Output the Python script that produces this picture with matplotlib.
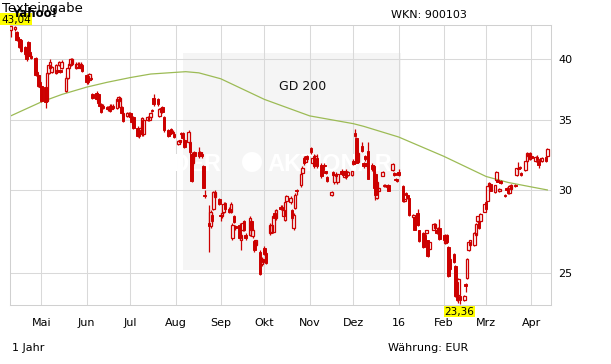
import matplotlib
matplotlib.use("Agg")
import matplotlib.pyplot as plt
import matplotlib.dates as mdates
import matplotlib.transforms as mtransforms
from matplotlib.patches import Rectangle, Circle
from matplotlib.ticker import NullLocator, FixedLocator, FixedFormatter
import numpy as np
import pandas as pd

# ---------------- data ----------------
start_date = "2015-04-10"

opens = [
    42.6, 42.7, 42.4, 42.0, 41.8, 41.7, 41.1, 40.9, 41.5, 40.6,
    40.3, 40.1, 38.9, 38.6, 38.0, 37.7, 37.6, 36.5, 38.8, 39.2,
    38.9, 38.8, 39.05, 39.5, 39.05, 39.2, 37.3, 38.4, 39.2, 39.5,
    39.6, 39.2, 39.3, 39.6, 39.2, 39.5, 38.6, 38.5, 38.2, 38.4,
    37.0, 37.1, 37.0, 36.2, 36.2, 36.1, 36.0, 35.8, 36.1, 35.85,
    36.1, 35.9, 36.5, 36.0, 36.0, 35.5, 35.3, 35.3, 35.5, 35.2,
    35.2, 34.4, 34.2, 34.0, 33.9, 33.9, 35.0, 35.0, 35.2, 35.75,
    36.7, 36.6, 35.3, 35.6, 36.0, 35.2, 34.2, 33.95, 34.3, 34.0,
    33.9, 33.2, 33.3, 34.0, 34.0, 33.5,
    33.3, 33.3, 32.5, 31.8, 32.6, 32.3, 32.6, 32.5, 31.6, 29.65,
    27.9, 27.7, 28.4, 28.8, 29.55, 29.4, 28.4, 28.3, 28.6, 29.15,
    28.8, 28.6, 27.0, 28.3, 27.7, 27.8, 26.9, 27.5, 28.0, 27.2,
    27.2, 28.05, 27.1, 26.8, 26.6, 26.2, 25.5, 25.6, 26.4, 26.1,
    27.3, 27.35, 27.35, 28.5, 28.2, 28.9, 28.9, 28.35, 28.1, 29.25,
    29.2, 28.7, 27.6, 28.85, 30.0, 30.3, 31.15, 32.15, 31.9, 32.35,
    32.9, 31.8, 32.3, 31.7, 32.15, 31.7, 31.5, 31.7, 31.25, 30.85,
    29.65, 31.2, 30.5, 31.1, 30.5, 31.3, 31.25, 30.85, 31.3, 31.0,
    31.0, 32.0, 34.0, 33.6, 31.9, 33.05, 31.8,
    32.35, 31.8, 32.7, 31.7, 31.6, 31.1, 29.5, 29.95, 30.95, 30.35,
    30.35, 30.3, 30.35, 31.35, 31.15, 30.75, 30.7, 31.2, 30.25, 29.25,
    29.8, 29.7, 29.45, 28.25, 28.25, 28.3, 28.5, 27.45, 27.3, 27.15,
    27.3, 26.85, 26.35, 27.5, 27.6, 27.45, 27.45, 27.6, 27.15, 26.7,
    27.2, 26.45, 25.8, 26.05, 25.4, 24.5, 23.8, 23.75, 23.55, 24.4,
    24.7, 26.3, 26.6, 26.6, 27.15, 28.0, 28.0, 28.0, 28.6, 29.2,
    29.3, 30.25, 30.4, 29.85, 30.65, 30.65, 29.9, 30.6, 29.7, 30.15,
    30.15, 29.8, 30.05, 30.35, 31.0, 31.45, 31.55, 31.15, 31.35, 31.95,
    32.3, 32.1, 32.35, 31.95, 32.25, 31.95, 32.1, 31.95, 32.25, 32.3,
]

highs = [
    43.04, 43.0, 42.5, 42.1, 41.9, 41.8, 41.2, 41.0, 41.6, 40.7,
    40.4, 40.2, 39.0, 38.7, 38.1, 37.8, 37.7, 38.9, 39.6, 40.0,
    39.4, 39.6, 39.1, 39.8, 39.1, 39.9, 38.5, 39.3, 39.7, 40.1,
    40.1, 39.7, 39.7, 39.7, 39.7, 39.6, 38.7, 38.6, 38.8, 38.5,
    37.1, 37.3, 37.1, 36.3, 36.3, 36.2, 36.1, 36.1, 36.2, 36.2,
    36.2, 36.7, 36.9, 36.8, 36.1, 35.6, 35.6, 35.6, 35.6, 35.3,
    35.3, 34.5, 34.3, 34.5, 35.2, 35.1, 35.3, 35.3, 35.6, 35.8,
    37.0, 36.7, 35.9, 36.0, 36.1, 35.3, 34.3, 34.1, 34.4, 34.2,
    34.0, 33.45, 33.5, 34.1, 34.1, 33.6,
    34.2, 33.4, 32.6, 32.6, 32.7, 33.0, 32.7, 32.6, 31.7, 30.0,
    29.0, 28.7, 28.5, 29.9, 30.0, 29.5, 28.5, 28.6, 29.2, 29.2,
    28.9, 29.2, 27.9, 28.4, 27.8, 27.9, 27.3, 28.0, 28.1, 27.3,
    28.3, 28.1, 27.6, 26.9, 26.9, 26.3, 25.9, 25.8, 26.5, 26.2,
    27.9, 27.8, 28.4, 28.7, 28.8, 29.0, 29.0, 28.8, 29.3, 29.7,
    29.6, 28.8, 28.5, 29.8, 30.05, 31.2, 31.6, 32.3, 32.3, 32.4,
    33.0, 32.2, 32.5, 32.4, 32.5, 31.8, 31.6, 31.8, 31.3, 30.9,
    29.9, 31.3, 31.1, 31.2, 31.1, 31.4, 31.3, 31.3, 31.4, 31.3,
    31.3, 32.1, 34.3, 33.7, 32.6, 33.3, 31.9,
    32.4, 31.9, 33.3, 31.8, 31.7, 31.2, 30.6, 30.2, 31.3, 30.4,
    30.4, 30.35, 30.4, 31.8, 31.2, 30.8, 30.75, 31.4, 30.3, 29.45,
    29.85, 29.75, 29.5, 28.45, 28.3, 28.35, 28.75, 27.5, 27.35, 27.2,
    27.5, 26.9, 26.8, 27.9, 27.9, 27.5, 27.65, 28.15, 27.2, 27.25,
    27.25, 26.5, 25.85, 26.1, 25.45, 24.55, 24.7, 23.8, 23.8, 24.45,
    25.85, 26.8, 26.9, 27.35, 27.9, 28.35, 28.05, 28.5, 29.15, 29.25,
    30.3, 30.5, 30.45, 30.35, 31.25, 30.7, 30.1, 30.65, 29.75, 30.2,
    30.2, 30.3, 30.4, 30.4, 31.5, 31.9, 31.6, 31.2, 32.0, 32.6,
    32.55, 32.6, 32.4, 32.3, 32.4, 32.0, 32.15, 32.25, 32.3, 32.9,
]

lows = [
    42.0, 42.5, 41.6, 41.6, 41.0, 40.6, 40.3, 39.8, 40.6, 40.2,
    40.0, 38.5, 38.5, 37.6, 37.5, 36.4, 35.9, 36.4, 38.7, 39.1,
    38.8, 38.7, 38.8, 39.4, 38.8, 39.1, 37.2, 38.3, 39.1, 39.4,
    39.5, 39.1, 39.2, 39.2, 39.1, 38.9, 37.9, 37.9, 38.1, 38.2,
    36.6, 36.5, 36.2, 36.0, 35.5, 35.8, 35.8, 35.7, 35.6, 35.8,
    35.8, 35.8, 36.4, 35.9, 35.4, 34.8, 35.2, 35.2, 35.1, 34.7,
    34.3, 33.7, 33.6, 33.9, 33.8, 33.8, 34.9, 34.9, 35.1, 35.6,
    36.1, 36.1, 35.2, 35.5, 35.5, 34.1, 33.7, 33.9, 33.9, 33.9,
    33.6, 33.1, 33.2, 33.8, 33.5, 32.9,
    33.2, 32.5, 30.5, 31.7, 32.2, 32.2, 32.3, 32.2, 30.1, 29.5,
    26.15, 27.6, 27.9, 28.7, 29.5, 29.0, 28.0, 28.2, 28.5, 28.7,
    28.5, 28.5, 26.9, 27.9, 27.5, 26.9, 26.3, 27.4, 27.4, 26.9,
    27.1, 27.4, 27.0, 26.2, 26.5, 24.9, 25.4, 25.5, 26.0, 25.5,
    27.2, 27.3, 27.3, 28.1, 28.1, 28.7, 28.7, 28.3, 28.0, 29.2,
    29.1, 28.1, 27.5, 28.8, 29.7, 30.2, 31.1, 31.7, 31.8, 32.0,
    32.5, 31.7, 31.5, 31.6, 31.5, 30.8, 31.3, 31.5, 31.1, 30.5,
    29.6, 30.9, 30.4, 30.8, 30.4, 31.0, 30.9, 30.8, 30.7, 30.9,
    30.9, 31.7, 33.7, 31.8, 31.8, 32.6, 31.5,
    32.0, 31.5, 30.7, 31.3, 30.1, 29.35, 29.4, 29.9, 30.9, 30.2,
    30.2, 30.1, 29.9, 31.3, 30.95, 30.6, 30.5, 30.95, 29.2, 29.2,
    29.65, 29.4, 28.35, 28.2, 27.45, 28.05, 27.7, 26.75, 26.4, 26.75,
    27.25, 25.9, 26.3, 27.45, 27.55, 27.25, 27.4, 26.85, 26.85, 26.65,
    26.7, 24.8, 25.15, 25.55, 23.7, 23.5, 23.4, 23.36, 23.5, 24.0,
    24.65, 26.25, 26.55, 26.55, 27.1, 27.95, 27.55, 27.95, 28.55, 28.7,
    29.25, 30.2, 29.9, 29.8, 30.6, 30.5, 29.85, 30.4, 29.55, 29.95,
    29.75, 29.75, 30.0, 30.2, 30.95, 31.1, 31.4, 30.95, 31.3, 31.9,
    32.25, 32.05, 32.1, 31.9, 32.0, 31.45, 31.9, 31.9, 31.9, 32.25,
]

closes = [
    43.0, 42.95, 41.7, 41.7, 41.1, 40.7, 40.4, 40.0, 40.7, 40.3,
    40.1, 38.6, 38.6, 37.7, 37.6, 36.5, 36.4, 38.8, 39.5, 39.7,
    39.3, 39.5, 38.9, 39.7, 38.9, 39.7, 38.4, 39.2, 39.6, 40.0,
    40.0, 39.6, 39.6, 39.3, 39.6, 39.0, 38.0, 38.0, 38.7, 38.3,
    36.7, 36.6, 36.3, 36.1, 35.6, 35.9, 35.85, 36.0, 35.7, 36.1,
    35.9, 36.6, 36.8, 36.7, 35.5, 34.9, 35.5, 35.5, 35.2, 34.8,
    34.4, 33.8, 33.8, 34.4, 35.1, 35.0, 35.2, 35.2, 35.5, 35.65,
    36.2, 36.2, 35.8, 35.9, 35.6, 34.2, 33.8, 34.05, 34.0, 34.1,
    33.7, 33.4, 33.45, 33.9, 33.6, 32.95,
    34.1, 32.6, 30.6, 32.5, 32.3, 32.6, 32.4, 32.3, 30.15, 29.6,
    27.7, 28.6, 28.0, 29.85, 29.85, 29.1, 28.3, 28.5, 29.1, 28.8,
    28.6, 29.1, 27.8, 27.95, 27.6, 27.0, 27.2, 27.9, 27.5, 27.0,
    28.2, 27.5, 27.5, 26.3, 26.85, 24.95, 25.8, 25.75, 26.05, 25.55,
    27.8, 27.75, 28.3, 28.2, 28.7, 28.75, 28.8, 28.7, 29.2, 29.6,
    29.5, 28.2, 28.4, 29.7, 29.9, 31.1, 31.5, 31.8, 32.25, 32.1,
    32.6, 32.15, 31.6, 32.3, 31.6, 30.9, 31.35, 31.6, 31.15, 30.6,
    29.85, 31.0, 31.0, 30.9, 31.05, 31.05, 31.0, 31.25, 30.85, 31.2,
    31.25, 31.75, 33.8, 31.85, 32.55, 32.7, 31.6,
    32.1, 31.6, 30.75, 31.4, 30.15, 29.7, 30.5, 30.15, 31.2, 30.25,
    30.25, 30.2, 29.95, 31.75, 31.0, 30.65, 30.6, 31.0, 29.25, 29.4,
    29.7, 29.45, 28.4, 28.4, 27.5, 28.1, 27.75, 26.8, 26.45, 26.8,
    27.45, 25.95, 26.75, 27.85, 27.85, 27.3, 27.6, 26.95, 26.9, 27.2,
    26.75, 24.85, 25.2, 25.6, 23.75, 23.55, 24.65, 23.55, 23.75, 24.3,
    25.8, 26.75, 26.85, 27.3, 27.85, 28.3, 27.6, 28.45, 29.1, 28.75,
    30.25, 30.45, 29.95, 30.3, 31.2, 30.55, 30.05, 30.45, 29.6, 30.0,
    29.8, 30.25, 30.35, 30.25, 31.45, 31.4, 31.45, 31.0, 31.95, 32.55,
    32.5, 32.55, 32.15, 32.25, 32.05, 31.7, 31.95, 32.2, 31.95, 32.85,
]

gd_dates = ["2015-04-10", "2015-05-01", "2015-05-15", "2015-06-01", "2015-06-15",
            "2015-07-01", "2015-07-15", "2015-08-08", "2015-08-17", "2015-09-01",
            "2015-10-01", "2015-11-01", "2015-12-01", "2015-12-08", "2016-01-01",
            "2016-02-01", "2016-03-01", "2016-03-16", "2016-04-01", "2016-04-12"]
gd_values = [35.3, 36.4, 37.0, 37.6, 38.0, 38.4, 38.7, 38.9, 38.8, 38.3,
             36.6, 35.3, 34.7, 34.5, 33.7, 32.3, 30.9, 30.5, 30.2, 30.0]

month_dates = ["2015-05-01", "2015-06-01", "2015-07-01", "2015-08-01", "2015-09-01",
               "2015-10-01", "2015-11-01", "2015-12-01", "2016-01-01", "2016-02-01",
               "2016-03-01", "2016-04-01"]
month_labels = ["Mai", "Jun", "Jul", "Aug", "Sep", "Okt", "Nov", "Dez", "16",
                "Feb", "Mrz", "Apr"]
y_ticks = [25, 30, 35, 40]
y_tick_labels = ["25", "30", "35", "40"]

max_label = "43,04"
min_label = "23,36"

# ---------------- figure ----------------
W, H = 611, 364
fig = plt.figure(figsize=(W / 100, H / 100), dpi=100)
px = mtransforms.Affine2D().scale(1, -1).translate(0, H)   # top-left pixel coords

ax = fig.add_axes([10 / W, (H - 305) / H, 541 / W, 280 / H])
ax.set_yscale("log")
ax.set_ylim(23.30, 43.10)
ax.set_xlim(mdates.date2num(pd.Timestamp("2015-04-09 12:00")),
            mdates.date2num(pd.Timestamp("2016-04-14 12:00")))

grid_c = "#d9d9d9"
red = "#cc0000"

ax.set_axisbelow(True)
mx = mdates.date2num(pd.to_datetime(month_dates))
ax.xaxis.set_major_locator(FixedLocator(mx))
ax.xaxis.set_minor_locator(NullLocator())
ax.set_xticklabels([])
ax.yaxis.set_major_locator(FixedLocator(y_ticks))
ax.yaxis.set_major_formatter(FixedFormatter(y_tick_labels))
ax.yaxis.set_minor_locator(NullLocator())
ax.grid(True, color=grid_c, linewidth=0.75)
ax.tick_params(axis="x", length=0)
ax.tick_params(axis="y", which="both", length=0, left=False, right=False,
               labelleft=False, labelright=True, pad=5, labelsize=8)
for s in ax.spines.values():
    s.set_color("#d0d0d0")
    s.set_linewidth(0.75)

# shaded legend area
ax.add_patch(Rectangle((183, 53), 218, 217, transform=px, facecolor="#f5f5f5",
                       edgecolor="none", zorder=0.2, clip_on=False))
# watermark
ax.text(221, 171, "DER", transform=px, color="white", fontsize=17, fontweight="bold",
        family="Liberation Sans", ha="right", va="baseline", zorder=0.6)
ax.add_patch(Circle((252, 162), 10, transform=px, facecolor="white",
                    edgecolor="none", zorder=0.6, clip_on=False))
ax.text(267, 171, "AKTIONÄR", transform=px, color="white", fontsize=17, fontweight="bold",
        family="Liberation Sans", ha="left", va="baseline", zorder=0.6)
ax.text(303, 90.5, "GD 200", transform=px, color="#111111", fontsize=9,
        ha="center", va="baseline", zorder=0.7)

# GD 200
gx = mdates.date2num(pd.to_datetime(gd_dates))
ax.plot(gx, gd_values, color="#9cbb55", linewidth=0.9, zorder=2)

# candles
dates = mdates.date2num(pd.bdate_range(start_date, periods=len(closes)))
o = np.array(opens); c = np.array(closes); h = np.array(highs); l = np.array(lows)
top = np.maximum(o, c); bot = np.minimum(o, c)
up = c >= o
dn = ~up
wbody = 1.8
ax.vlines(dates, top, h, color=red, linewidth=0.9, zorder=3)
ax.vlines(dates, l, bot, color=red, linewidth=0.9, zorder=3)
ax.bar(dates[up], (top - bot)[up], bottom=bot[up], width=wbody, facecolor="none",
       edgecolor=red, linewidth=0.9, zorder=4)
ax.bar(dates[dn], (top - bot)[dn], bottom=bot[dn], width=wbody, facecolor=red,
       edgecolor=red, linewidth=0.7, zorder=4)

# month labels
blend = mtransforms.blended_transform_factory(ax.transData, px)
for d, lab in zip(mx, month_labels):
    ax.text(d, 326, lab, transform=blend, ha="center", va="baseline", fontsize=8,
            clip_on=False)

# header / footer texts
fig.text(57, 17, "Yahoo!", transform=px, fontsize=8.5, fontweight="bold",
         ha="right", va="baseline")
fig.text(2, 12, "Texteingabe", transform=px, fontsize=9.5, ha="left", va="baseline")
fig.patches.append(Rectangle((0, 13), 32, 12, transform=px, facecolor="#ffff00",
                             edgecolor="none", figure=fig))
fig.text(16, 22.5, max_label, transform=px, fontsize=7.5, ha="center", va="baseline")
fig.text(391, 18, "WKN: 900103", transform=px, fontsize=8, ha="left", va="baseline")
fig.text(12, 351, "1 Jahr", transform=px, fontsize=8, ha="left", va="baseline")
fig.text(388, 351, "Währung: EUR", transform=px, fontsize=8, ha="left", va="baseline")
ax.add_patch(Rectangle((444, 306), 31, 10.5, transform=px, facecolor="#ffff00",
                       edgecolor="none", zorder=5, clip_on=False))
ax.text(459.5, 315, min_label, transform=px, fontsize=7.5, ha="center", va="baseline",
        zorder=6, clip_on=False)

fig.savefig("out.png", dpi=100)
